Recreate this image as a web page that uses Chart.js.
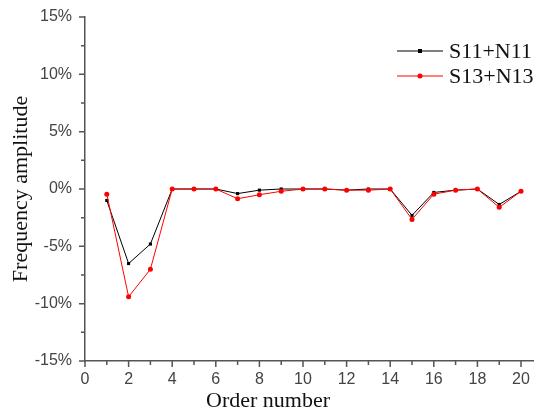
<!DOCTYPE html>
<html>
<head>
<meta charset="utf-8">
<script src="https://cdn.jsdelivr.net/npm/chart.js@4/dist/chart.umd.min.js"></script>
<style>
  html, body { margin: 0; padding: 0; background: #fff; }
  #app { display: block; }
</style>
</head>
<body>
<canvas id="app" width="537" height="414"></canvas>
<script>
// order numbers and the two frequency-amplitude series (in %)
const orders = [1, 2, 3, 4, 5, 6, 7, 8, 9, 10, 11, 12, 13, 14, 15, 16, 17, 18, 19, 20];
const s11n11 = [-1.0, -6.5, -4.8, 0, 0, 0, -0.4, -0.1, 0, 0, 0, -0.1, 0, 0, -2.3, -0.3, -0.1, 0, -1.35, -0.2];
const s13n13 = [-0.45, -9.4, -7.0, 0, 0, 0, -0.85, -0.5, -0.2, 0, 0, -0.1, -0.1, 0, -2.65, -0.45, -0.1, 0, -1.6, -0.2];
const seriesNames = ['S11+N11', 'S13+N13'];
const xTicks = [0, 1, 2, 3, 4, 5, 6, 7, 8, 9, 10, 11, 12, 13, 14, 15, 16, 17, 18, 19, 20];
const yTicks = [-15, -10, -5, 0, 5, 10, 15];

const AXIS_COLOR = '#555';
const TICK_FONT = { family: '"Liberation Sans", Arial, sans-serif', size: 16 };
const SERIF = '"Liberation Serif", "Times New Roman", serif';

const toPoints = (ys) => orders.map((x, i) => ({ x, y: ys[i] }));

// major/minor tick marks pointing outwards, legend box and x title
const decorations = {
  id: 'decorations',
  afterDraw(chart) {
    const { ctx, chartArea, scales } = chart;
    ctx.save();
    ctx.strokeStyle = AXIS_COLOR;
    ctx.lineWidth = 1.5;
    ctx.beginPath();
    scales.x.ticks.forEach(t => {
      const px = scales.x.getPixelForValue(t.value);
      const len = t.value % 2 === 0 ? 6 : 4;
      ctx.moveTo(px, chartArea.bottom);
      ctx.lineTo(px, chartArea.bottom + len);
    });
    scales.y.ticks.forEach(t => {
      const py = scales.y.getPixelForValue(t.value);
      const len = t.value % 5 === 0 ? 6 : 4;
      ctx.moveTo(chartArea.left, py);
      ctx.lineTo(chartArea.left - len, py);
    });
    ctx.stroke();

    // legend
    chart.data.datasets.forEach((ds, i) => {
      const y = 51 + i * 25;
      ctx.strokeStyle = ds.borderColor;
      ctx.lineWidth = 1;
      ctx.beginPath();
      ctx.moveTo(397, y);
      ctx.lineTo(443, y);
      ctx.stroke();
      ctx.fillStyle = ds.backgroundColor;
      if (ds.pointStyle === 'rect') {
        ctx.fillRect(418, y - 2, 4, 4);
      } else {
        ctx.beginPath();
        ctx.arc(420, y, 2.5, 0, Math.PI * 2);
        ctx.fill();
      }
      ctx.fillStyle = '#111';
      ctx.font = '22px ' + SERIF;
      ctx.textBaseline = 'middle';
      ctx.textAlign = 'left';
      ctx.fillText(ds.label, 449, y + 1);
    });

    // x axis title
    ctx.fillStyle = '#111';
    ctx.font = '22px ' + SERIF;
    ctx.textAlign = 'center';
    ctx.textBaseline = 'middle';
    ctx.fillText('Order number', 268, 401);
    ctx.restore();
  }
};

new Chart(document.getElementById('app'), {
  type: 'line',
  data: {
    datasets: [
      {
        label: seriesNames[0],
        data: toPoints(s11n11),
        borderColor: '#000',
        backgroundColor: '#000',
        borderWidth: 1,
        pointStyle: 'rect',
        pointRadius: 2.2,
        pointBorderWidth: 0,
        order: 2,
      },
      {
        label: seriesNames[1],
        data: toPoints(s13n13),
        borderColor: '#ff0000',
        backgroundColor: '#ff0000',
        borderWidth: 1,
        pointStyle: 'circle',
        pointRadius: 2.5,
        pointBorderWidth: 0,
        order: 1,
      },
    ]
  },
  options: {
    responsive: false,
    animation: false,
    layout: { padding: { top: 17, right: 0, left: 0, bottom: 0 } },
    plugins: {
      legend: { display: false },
      tooltip: { enabled: false },
    },
    scales: {
      x: {
        type: 'linear',
        min: 0,
        max: 20.55,
        grid: { display: false, drawTicks: false },
        border: { display: true, color: AXIS_COLOR, width: 1.5 },
        ticks: {
          autoSkip: false,
          maxRotation: 0,
          padding: 9,
          color: '#444',
          font: TICK_FONT,
          callback: (v) => (v % 2 === 0 ? String(v) : ''),
        },
        afterBuildTicks: (scale) => {
          scale.ticks = xTicks.map(value => ({ value }));
        },
        afterFit: (scale) => {
          scale.height = 53;
          scale.paddingLeft = 0;
          scale.paddingRight = 0;
        },
      },
      y: {
        min: -15,
        max: 15,
        grid: { display: false, drawTicks: false },
        border: { display: true, color: AXIS_COLOR, width: 1.5 },
        ticks: {
          stepSize: 2.5,
          autoSkip: false,
          padding: 13,
          color: '#444',
          font: TICK_FONT,
          callback: (v) => (yTicks.includes(v) ? v + '%' : ''),
        },
        title: {
          display: true,
          text: 'Frequency amplitude',
          color: '#111',
          font: { family: SERIF, size: 22 },
          padding: { top: 8, bottom: 0 },
        },
        afterFit: (scale) => {
          scale.width = 85;
          scale.paddingTop = 0;
          scale.paddingBottom = 0;
        },
      },
    },
  },
  plugins: [decorations],
});
</script>
</body>
</html>
